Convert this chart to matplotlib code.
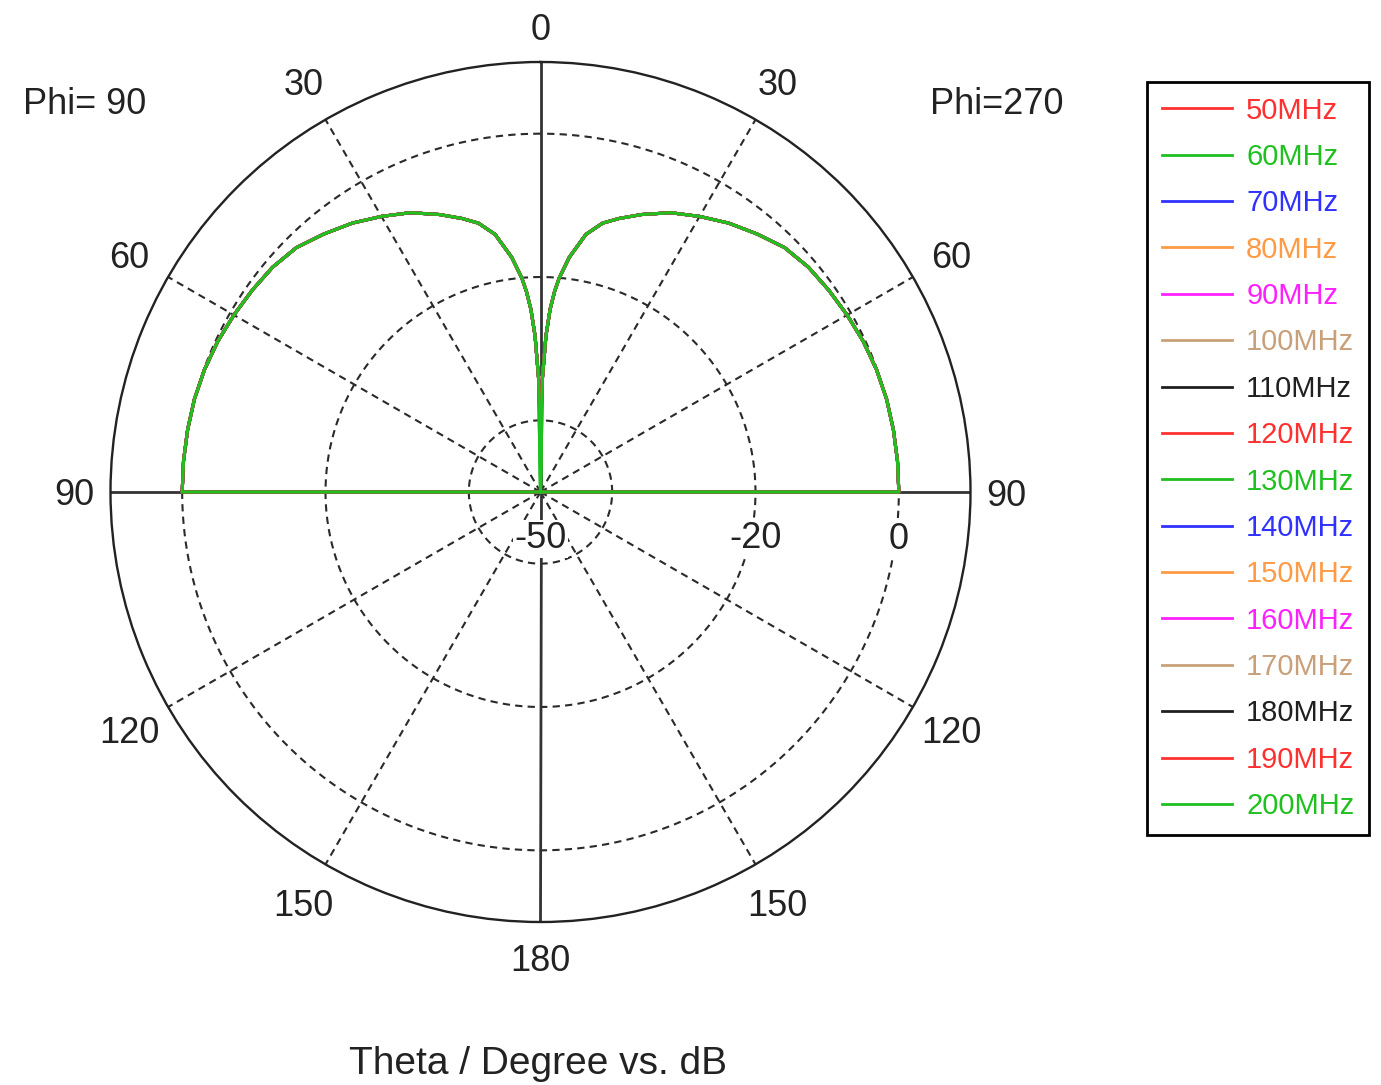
import numpy as np
import matplotlib
matplotlib.use('Agg')
import matplotlib.pyplot as plt
from matplotlib.transforms import offset_copy

plt.rcParams['font.family'] = ['Liberation Sans', 'DejaVu Sans']

# frequencies and their trace colours
freqs = ['50MHz', '60MHz', '70MHz', '80MHz', '90MHz', '100MHz', '110MHz', '120MHz',
         '130MHz', '140MHz', '150MHz', '160MHz', '170MHz', '180MHz', '190MHz', '200MHz']
colors = ['#ff3030', '#20c020', '#3030ff', '#ff9a45', '#ff20ff', '#c8a07a', '#202020',
          '#ff3030', '#20c020', '#3030ff', '#ff9a45', '#ff20ff', '#c8a07a', '#202020',
          '#ff3030', '#20c020']

# gain (dB) vs theta (same for Phi=90 and Phi=270 cuts)
theta_deg = [1, 2, 3, 4, 5, 7, 10, 13, 16, 20, 25, 30, 35, 40, 45, 50, 55, 60,
             65, 70, 75, 80, 85, 90, 91, 120, 150, 180]
gain_db = [-34, -28.2, -24.5, -22, -20, -17, -13.5, -11.5, -10.3, -8.8, -7.0, -5.6,
           -4.2, -3.0, -1.8, -1.2, -0.9, -0.6, -0.3, -0.1, 0, 0, 0, 0,
           -80, -80, -80, -80]
# depth of the null at theta = 0 for each frequency
null_db = [-42, -60, -38, -37, -36, -35, -43, -41, -60, -38, -36, -35, -34, -42, -40, -60]

r_min, r_max = -50, 10
rad_ticks = [-50, -20, 0]
grid_circles = [-40, -20, 0]

fig = plt.figure(figsize=(13.81, 10.85), dpi=100)
ax = fig.add_axes([110.5 / 1381, 163 / 1085, 860 / 1381, 860 / 1085], projection='polar')
ax.set_theta_zero_location('N')
ax.set_theta_direction(1)
ax.set_rlim(r_min, r_max)
ax.set_xticks([])
ax.set_yticks([])
ax.grid(False)
ax.spines['polar'].set_color('#222222')
ax.spines['polar'].set_linewidth(1.7)

dash = (0, (3.5, 2.5))
circ = np.linspace(0, 2 * np.pi, 500)
for r in grid_circles:
    ax.plot(circ, np.full_like(circ, r), ls=dash, color='#2a2a2a', lw=1.5, zorder=1)
for a in [30, 60, 120, 150, 210, 240, 300, 330]:
    ax.plot([np.deg2rad(a)] * 2, [r_min, r_max], ls=dash, color='#2a2a2a', lw=1.5, zorder=1)
for a in [0, 90, 180, 270]:
    ax.plot([np.deg2rad(a)] * 2, [r_min, r_max], color='#333333', lw=2, zorder=2)

handles = []
for f, c, n in zip(freqs, colors, null_db):
    th = np.array([0] + theta_deg, dtype=float)
    g = np.array([n] + gain_db, dtype=float)
    ang = np.concatenate([-th[::-1], th[1:]])
    val = np.concatenate([g[::-1], g[1:]])
    ln, = ax.plot(np.deg2rad(ang), np.clip(val, r_min, None), color=c, lw=2.2, zorder=3, label=f)
    handles.append(ln)

# angle labels: left side is Phi=90, right side is Phi=270
for a in range(0, 360, 30):
    lab = a if a <= 180 else 360 - a
    rr = 15 if a % 90 == 0 else 16.2
    ax.text(np.deg2rad(a), rr, str(lab), ha='center', va='center_baseline', fontsize=26,
            color='#222222', clip_on=False)

# radial labels under the horizontal axis
tr = offset_copy(ax.transData, fig=fig, x=0, y=-43, units='dots')
for r in rad_ticks:
    ax.text(np.deg2rad(270), r, str(r), transform=tr, ha='center', va='center_baseline',
            fontsize=26, color='#222222', zorder=5,
            bbox=dict(facecolor='white', edgecolor='none', pad=1))

fig.text(85 / 1381, 1 - 100 / 1085, 'Phi= 90', ha='center', va='center_baseline', fontsize=26, color='#222222')
fig.text(997 / 1381, 1 - 100 / 1085, 'Phi=270', ha='center', va='center_baseline', fontsize=26, color='#222222')
fig.text(538 / 1381, 1 - 1060 / 1085, 'Theta / Degree vs. dB', ha='center', va='center_baseline',
         fontsize=28, color='#222222')

leg = fig.legend(handles, freqs, loc='upper left', bbox_to_anchor=(1147 / 1381, 1 - 82 / 1085),
                 borderaxespad=0, frameon=True, fancybox=False, framealpha=1,
                 edgecolor='black', fontsize=21, handlelength=2.4, handletextpad=0.5,
                 labelspacing=0.63, borderpad=0.5, labelcolor='linecolor')
leg.get_frame().set_linewidth(2)
for ln in leg.get_lines():
    ln.set_linewidth(2)

fig.savefig('out.png', dpi=100)
